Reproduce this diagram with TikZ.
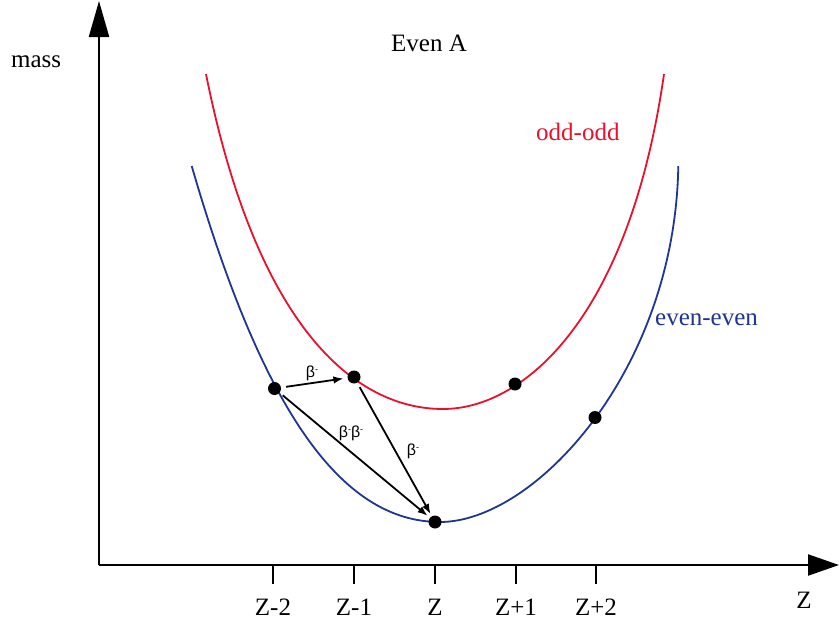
\documentclass[tikz,border=0pt]{standalone}
\usepackage{fontspec}
\setmainfont{Liberation Serif}
\newfontfamily\betafont{Liberation Sans}
\usetikzlibrary{arrows.meta}
\definecolor{oddred}{RGB}{232,16,44}
\definecolor{evenblue}{RGB}{32,52,148}
\tikzset{
  axisline/.style={line width=2.2pt},
  curve/.style={line width=1.8pt},
  dot/.style={circle,fill=black,inner sep=0pt,minimum size=13pt},
  decay/.style={line width=1.8pt,-{Latex[length=10pt,width=7.5pt]}},
  tick/.style={line width=2pt},
  lab/.style={font=\fontsize{25}{30}\selectfont,inner sep=0pt},
  blab/.style={font=\betafont\fontsize{16}{18}\selectfont,inner sep=0pt},
}
\newcommand{\bm}{β\raisebox{0.55ex}{\fontsize{9}{9}\selectfont -}}
\begin{document}
\begin{tikzpicture}[x=1pt,y=-1pt]
\useasboundingbox (0,0) rectangle (839,621);
% axes
\coordinate (O) at (99,565);
\coordinate (ytop) at (99,1);
\coordinate (xend) at (839,565);
\draw[axisline,-{Triangle[length=36pt,width=20pt]}] (O) -- (ytop);
\draw[axisline,-{Triangle[length=31pt,width=21pt]}] (O) -- (xend);
% ticks and labels
\foreach \x/\t/\n in {273/Z-2/a,354/Z-1/b,435/Z/c,516/Z+1/d,596/Z+2/e}{
  \coordinate (t\n) at (\x,565);
  \coordinate (b\n) at (\x,584);
  \draw[tick] (t\n) -- (b\n);
  \node[lab,anchor=base] (l\n) at (\x,615) {\t};
}
\node[lab,anchor=base] (zlab) at (804,608) {Z};
\node[lab,anchor=base west] (mass) at (11,67) {mass};
\node[lab,anchor=base west] (title) at (391,52) {Even A};
\node[lab,anchor=base west,text=oddred] (oddlab) at (536,140) {odd-odd};
\node[lab,anchor=base west,text=evenblue] (evenlab) at (655,325) {even-even};
% curves
\draw[curve,evenblue] (191.7,166) .. controls (261.7,407.5) and (340,522) .. (440,522)
  .. controls (535,522) and (675,370) .. (678.3,166);
\draw[curve,oddred] (206,74) .. controls (256,324) and (353,409) .. (443,409)
  .. controls (523,409) and (629,319) .. (664,74);
% dots
\node[dot] (zm2) at (274.5,388.5) {};
\node[dot] (zm1) at (354,377) {};
\node[dot] (z0) at (435,522) {};
\node[dot] (zp1) at (515,384) {};
\node[dot] (zp2) at (595,417.5) {};
% decays
\draw[decay,shorten <=5pt,shorten >=4pt] (zm2) -- (zm1);
\draw[decay,shorten <=4pt,shorten >=3pt] (zm2) -- (z0);
\draw[decay,shorten <=5pt,shorten >=2.5pt] (zm1) -- (z0);
\node[blab] (b1) at (312,373) {\bm};
\node[blab] (b2) at (351,433) {\bm\bm};
\node[blab] (b3) at (413,451) {\bm};
\end{tikzpicture}
\end{document}
